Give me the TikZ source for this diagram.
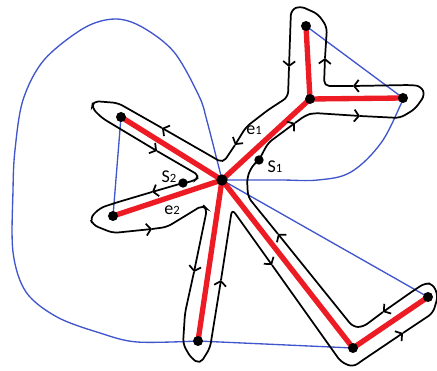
\documentclass[tikz,border=0pt]{standalone}
\usepackage{fontspec}
\setmainfont{Carlito}
\usetikzlibrary{arrows.meta}
\pgfdeclarelayer{bg}
\pgfsetlayers{bg,main}
\definecolor{bl}{RGB}{65,85,205}
\definecolor{rd}{RGB}{237,28,36}
\begin{document}
\begin{tikzpicture}[x=0.75pt,y=-0.75pt,
  dot/.style={circle,fill=black,inner sep=0pt,minimum size=7.5pt},
  sdot/.style={circle,fill=black,inner sep=0pt,minimum size=7pt},
  redge/.style={rd,line width=4pt},
  bedge/.style={bl,line width=1pt},
  tour/.style={black,line width=1.3pt,rounded corners=4pt,-{Straight Barb[length=3.5pt,width=9pt]}},
  lbl/.style={font=\fontsize{13.5}{13.5}\selectfont,inner sep=0pt}]
\useasboundingbox (0,0) rectangle (437,371);
% vertices
\node[dot,minimum size=8.5pt] (C) at (222,180) {};
\node[dot] (J) at (310,99) {};
\node[dot] (T) at (306,26) {};
\node[dot] (R) at (403,98) {};
\node[dot] (UL) at (121,117) {};
\node[dot] (L) at (113,216) {};
\node[dot] (B) at (198,341) {};
\node[dot] (BR) at (353,348) {};
\node[dot] (FR) at (428,297) {};
\node[sdot] (S1) at (259,160) {};
\node[sdot] (S2) at (183,183) {};
% labels
\newcommand{\subdig}[1]{{\fontsize{9.5}{9.5}\selectfont #1}}
\node[lbl] (le1) at (254,130) {e\subdig{1}};
\node[lbl] (lS1) at (275,167) {S\subdig{1}};
\node[lbl] (lS2) at (169,177) {S\subdig{2}};
\node[lbl] (le2) at (172,210) {e\subdig{2}};
\begin{pgfonlayer}{bg}
% blue lines
\draw[bedge] plot[smooth,tension=0.55] coordinates {(C) (207,121) (199,96) (174,52) (142,27) (115,19) (84,28) (44,60) (23,100) (15,150) (13,190) (13,252) (26,292) (57,317) (100,333) (137,342) (B)};
\draw[bedge] (B.center) -- (BR.center);
\draw[bedge] (C.center) -- (FR.center);
\draw[bedge] (UL.center) -- (L.center);
\draw[bedge] (T.center) -- (R.center);
\draw[bedge] plot[smooth,tension=0.6] coordinates {(R) (401,104) (381,143) (351,172) (318,180) (280,180) (C)};
% red tree
\draw[redge] (C.center) -- (J.center);
\draw[redge] (J.center) -- (T.center);
\draw[redge] (J.center) -- (R.center);
\draw[redge] (C.center) -- (UL.center);
\draw[redge] (C.center) -- (L.center);
\draw[redge] (C.center) -- (B.center);
\draw[redge] (C.center) -- (BR.center);
\draw[redge] (BR.center) -- (FR.center);
\end{pgfonlayer}
% tour arrow points
\coordinate (a1) at (295,123);
\coordinate (a2) at (360,116);
\coordinate (a3) at (353,86);
\coordinate (a4) at (325,58);
\coordinate (a5) at (289,67);
\coordinate (a6) at (235,145);
\coordinate (a7) at (162,128);
\coordinate (a8) at (157,151);
\coordinate (a9) at (152,192);
\coordinate (a10) at (152,229);
\coordinate (a11) at (194,272);
\coordinate (a12) at (221,280);
\coordinate (a13) at (272,265);
\coordinate (a14) at (403,333);
\coordinate (a15) at (383,312);
\coordinate (a16) at (278,234);
% Euler tour
\draw[tour] (a1) -- (306,115) -- (314,113) -- (a2);
\draw[tour] (a2) -- (400,118) -- (415,109) -- (425,95) -- (421,86) -- (410,85) -- (a3);
\draw[tour] (a3) -- (324,86) -- (a4);
\draw[tour] (a4) -- (327,27) -- (318,14) -- (300,6) -- (291,10) -- (a5);
\draw[tour] (a5) -- (288,97) -- (268,110) -- (246,127) -- (a6);
\draw[tour] (a6) -- (223,163) -- (a7);
\draw[tour] (a7) -- (118,103) -- (93,101) -- (92,108) -- (102,118) -- (a8);
\draw[tour] (a8) -- (200,176) -- (194,181) -- (S2.center) -- (a9);
\draw[tour] (a9) -- (115,203) -- (100,208) -- (90,218) -- (93,225) -- (113,233) -- (a10);
\draw[tour] (a10) -- (167,227) -- (190,213) -- (203,205) -- (207,209) -- (a11);
\draw[tour] (a11) -- (185,313) -- (183,344) -- (191,358) -- (200,364) -- (210,348) -- (a12);
\draw[tour] (a12) -- (232,209) -- (a13);
\draw[tour] (a13) -- (341,362) -- (353,367) -- (363,360) -- (a14);
\draw[tour] (a14) -- (433,313) -- (438,296) -- (433,284) -- (425,283) -- (410,293) -- (a15);
\draw[tour] (a15) -- (363,327) -- (353,327) -- (a16);
\draw[tour] (a16) -- (248,197) -- (247,178) -- (252,166) -- (S1.center) -- (268,143) -- (a1);
\end{tikzpicture}
\end{document}
